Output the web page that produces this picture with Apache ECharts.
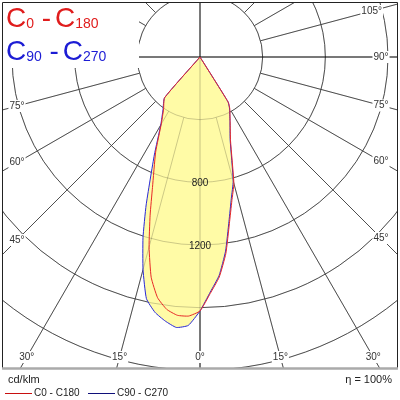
<!DOCTYPE html>
<html><head><meta charset="utf-8">
<script src="https://cdn.jsdelivr.net/npm/echarts@6/dist/echarts.min.js"></script>
<style>html,body{margin:0;padding:0;background:#fff}#c{width:400px;height:400px}</style>
</head><body><div id="c"></div>
<script>
// gamma angle in degrees (0 = nadir, negative = left half), intensity in cd/klm
const curveAngles = [-45, -41, -35, -30, -25, -20, -17.5, -15, -12.5, -10, -7.5, -5, -2.5, 0, 2.5, 5, 7.5, 10, 12.5, 15, 20, 25, 30, 32, 35];
const c0Values  = [0, 345, 405, 495, 670, 887, 1059, 1256, 1440, 1560, 1625, 1655, 1655, 1621, 1510, 1410, 1265, 1080, 940, 835, 570, 455, 380, 340, 0];
const c90Values = [0, 345, 412, 501, 690, 1005, 1210, 1405, 1580, 1655, 1700, 1733, 1715, 1621, 1502, 1400, 1250, 1065, 924, 819, 563, 453, 376, 338, 0];

const gridRadii = [400, 800, 1200, 1600, 2000, 2400];
const spokeAngles = [-165, -150, -135, -120, -105, -90, -75, -60, -45, -30, -15, 0, 15, 30, 45, 60, 75, 90, 105, 120, 135, 150, 165, 180];
const axisSpokes = [-90, 0, 90, 180];
const angleLabels = [0, 15, 30, 45, 60, 75, 90, 105];
const intensityLabels = [800, 1200];
const seriesNames = ['C0 - C180', 'C90 - C270'];

const FONT = '"Liberation Sans", Arial, sans-serif';
const FRAME = {x: 3, y: 2.5, width: 394, height: 366};

function gridGroup(api, normal, axis) {
  const c = api.coord([0, 0]);
  const children = [];
  gridRadii.forEach(r => {
    const p = api.coord([r, 0]);
    const rad = Math.hypot(p[0] - c[0], p[1] - c[1]);
    children.push({type: 'circle', shape: {cx: c[0], cy: c[1], r: rad},
      style: {fill: 'none', stroke: normal, lineWidth: 1}});
  });
  const rMax = gridRadii[gridRadii.length - 1];
  spokeAngles.forEach(a => {
    const isAxis = axisSpokes.indexOf(a) >= 0;
    const p1 = api.coord([isAxis ? 0 : gridRadii[0], a]);
    const p2 = api.coord([rMax, a]);
    children.push({type: 'line', shape: {x1: p1[0], y1: p1[1], x2: p2[0], y2: p2[1]},
      style: {stroke: isAxis ? axis : normal, lineWidth: 1}});
  });
  return {type: 'group', clipPath: {type: 'rect', shape: FRAME}, children};
}

function pts(api, values) {
  return curveAngles.map((a, i) => api.coord([values[i], a]));
}

const richTitle = (color) => ({
  b: {fontSize: 28, lineHeight: 28, fontFamily: FONT, fill: color, verticalAlign: 'bottom'},
  s: {fontSize: 14, lineHeight: 14, fontFamily: FONT, fill: color, verticalAlign: 'bottom', padding: [0, 0, 2, 0]}
});

const chart = echarts.init(document.getElementById('c'), null, {renderer: 'canvas'});
const option = {
  animation: false,
  polar: {center: [200, 57], radius: 376},
  radiusAxis: {type: 'value', min: 0, max: 2400, axisLine: {show: false}, axisTick: {show: false}, axisLabel: {show: false}, splitLine: {show: false}},
  angleAxis: {type: 'value', min: -180, max: 180, startAngle: 90, clockwise: false,
    axisLine: {show: false}, axisTick: {show: false}, axisLabel: {show: false}, splitLine: {show: false}},
  series: [
    {type: 'custom', coordinateSystem: 'polar', z: 1, silent: true, data: [[0, 0]],
      renderItem: (p, api) => gridGroup(api, '#626262', '#111')},
    {type: 'custom', coordinateSystem: 'polar', z: 2, silent: true, data: [[0, 0]],
      renderItem: (p, api) => ({type: 'group', children: [
        {type: 'polygon', shape: {points: pts(api, c90Values), smooth: 0.15}, style: {fill: 'rgb(255,251,166)', stroke: 'none'}},
        {type: 'polygon', shape: {points: pts(api, c0Values), smooth: 0.15}, style: {fill: 'rgb(255,251,166)', stroke: 'none'}}
      ]})},
    {type: 'custom', coordinateSystem: 'polar', z: 3, silent: true, data: [[0, 0]],
      renderItem: (p, api) => gridGroup(api, 'rgba(0,0,0,0.2)', 'rgba(0,0,0,0.22)')},
    {name: seriesNames[1], type: 'custom', coordinateSystem: 'polar', z: 4, silent: true, data: [[0, 0]],
      renderItem: (p, api) => ({type: 'polygon', shape: {points: pts(api, c90Values), smooth: 0.15}, style: {fill: 'none', stroke: '#2828d8', lineWidth: 1}})},
    {name: seriesNames[0], type: 'custom', coordinateSystem: 'polar', z: 5, silent: true, data: [[0, 0]],
      renderItem: (p, api) => ({type: 'polygon', shape: {points: pts(api, c0Values), smooth: 0.15}, style: {fill: 'none', stroke: '#e82828', lineWidth: 1}})},
    {type: 'custom', coordinateSystem: 'polar', z: 6, silent: true, data: [[0, 0]],
      renderItem: (p, api) => {
        const c = api.coord([0, 0]);
        const children = [];
        const rMax = gridRadii[gridRadii.length - 1];
        const xL = 17, xR = 381, yB = 357, yT = 11;
        angleLabels.forEach(a => {
          (a === 0 ? [1] : [1, -1]).forEach(s => {
            const q = api.coord([rMax, s * a]);
            const dx = q[0] - c[0], dy = q[1] - c[1];
            let t = Infinity;
            if (dx > 1e-6) t = Math.min(t, (xR - c[0]) / dx);
            if (dx < -1e-6) t = Math.min(t, (xL - c[0]) / dx);
            if (dy > 1e-6) t = Math.min(t, (yB - c[1]) / dy);
            if (dy < -1e-6) t = Math.min(t, (yT - c[1]) / dy);
            children.push({type: 'text', x: c[0] + dx * t, y: c[1] + dy * t,
              style: {text: a + '°', font: '10px ' + FONT, fill: '#333', align: 'center', verticalAlign: 'middle',
                backgroundColor: '#fff', padding: [1, 1]}});
          });
        });
        intensityLabels.forEach(v => {
          const q = api.coord([v, 0]);
          children.push({type: 'text', x: q[0], y: q[1] + 1,
            style: {text: String(v), font: '10px ' + FONT, fill: '#222', align: 'center', verticalAlign: 'middle'}});
        });
        return {type: 'group', children};
      }}
  ],
  graphic: [
    {type: 'rect', z: 100, shape: {x: 3, y: 3, width: 136, height: 65}, style: {fill: '#fff'}},
    {type: 'text', z: 101, x: 6, y: 33, style: {
      text: '{b|C}{s|0  }{b|-}{s| }{b|C}{s|180}', fill: '#e01c1c', verticalAlign: 'bottom', rich: richTitle('#e01c1c')}},
    {type: 'text', z: 101, x: 6, y: 66, style: {
      text: '{b|C}{s|90  }{b|-}{s| }{b|C}{s|270}', fill: '#1c1cd4', verticalAlign: 'bottom', rich: richTitle('#1c1cd4')}},
    {type: 'rect', z: 102, shape: {x: 2.5, y: 2.5, width: 395, height: 366}, style: {fill: 'none', stroke: '#222', lineWidth: 1}},
    {type: 'line', z: 103, shape: {x1: 2, y1: 368.5, x2: 398, y2: 368.5}, style: {stroke: '#aaa', lineWidth: 2.5}},
    {type: 'text', z: 101, x: 8, y: 380, style: {text: 'cd/klm', font: '11px ' + FONT, fill: '#222', verticalAlign: 'middle'}},
    {type: 'line', z: 101, shape: {x1: 5, y1: 393.5, x2: 32, y2: 393.5}, style: {stroke: '#c81010', lineWidth: 1}},
    {type: 'text', z: 101, x: 34, y: 393, style: {text: seriesNames[0], font: '10px ' + FONT, fill: '#222', verticalAlign: 'middle'}},
    {type: 'line', z: 101, shape: {x1: 88, y1: 393.5, x2: 115, y2: 393.5}, style: {stroke: '#10107a', lineWidth: 1}},
    {type: 'text', z: 101, x: 117, y: 393, style: {text: seriesNames[1], font: '10px ' + FONT, fill: '#222', verticalAlign: 'middle'}},
    {type: 'text', z: 101, x: 392, y: 380, style: {text: 'η = 100%', font: '11px ' + FONT, fill: '#222', align: 'right', verticalAlign: 'middle'}}
  ]
};
chart.setOption(option);
</script></body></html>
